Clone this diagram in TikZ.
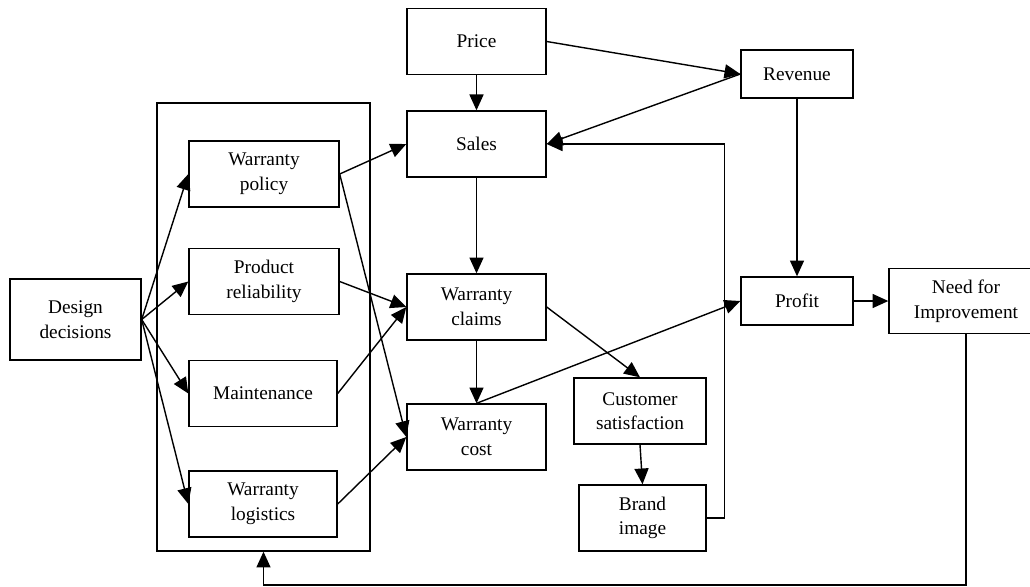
\documentclass[tikz,border=0pt]{standalone}
\usepackage{fontspec}
\setmainfont{Liberation Serif}
\usepackage{tikz}
\usetikzlibrary{positioning,calc,arrows.meta}

\tikzset{
  box/.style={draw, line width=0.8pt, align=center, inner sep=0pt, minimum height=1.32cm},
  arr/.style={-{Triangle[length=9pt,width=8pt]}, line width=0.8pt}
}

\begin{document}
\begin{tikzpicture}[x=0.02cm, y=-0.02cm, font=\fontsize{11}{14}\selectfont]
						\useasboundingbox (0,0) rectangle (1030,586);
						\node[box, minimum width=4.26cm, minimum height=8.96cm] (frame) at (263.5,327) {};
						\node[box, minimum width=2.62cm, minimum height=1.62cm] (dd) at (75.5,319.5) {Design\\decisions};
						\node[box, minimum width=3cm] (wp) at (264,174) {Warranty\\policy};
						\node[box, minimum width=3cm] (pr) at (264,281.5) {Product\\reliability};
						\node[box, minimum width=2.96cm] (mt) at (263,393.5) {Maintenance};
						\node[box, minimum width=2.96cm] (wl) at (263,504) {Warranty\\logistics};
						\node[box, minimum width=2.78cm] (price) at (476.5,41.5) {Price};
						\node[box, minimum width=2.78cm] (sales) at (476.5,144) {Sales};
						\node[box, minimum width=2.78cm] (claims) at (476.5,307) {Warranty\\claims};
						\node[box, minimum width=2.78cm] (cost) at (476.5,437) {Warranty\\cost};
						\node[box, minimum width=2.64cm] (cs) at (640,411) {Customer\\satisfaction};
						\node[box, minimum width=2.54cm] (brand) at (642.5,518) {Brand\\image};
						\node[box, minimum width=2.24cm, minimum height=0.96cm] (rev) at (797,74) {Revenue};
						\node[box, minimum width=2.24cm, minimum height=0.96cm] (profit) at (797,301) {Profit};
						\node[box, minimum width=3.08cm, minimum height=1.3cm] (need) at (966,301) {Need for\\Improvement};
						\coordinate (fb) at (263.5,585);
						\foreach \t in {wp,pr,mt,wl}
							\draw[arr] (dd.east) -- (\t.west);
						\draw[arr] (wp.east) -- (sales.west);
						\draw[arr] (wp.east) -- (cost.west);
						\draw[arr] (pr.east) -- (claims.west);
						\draw[arr] (mt.east) -- (claims.west);
						\draw[arr] (wl.east) -- (cost.west);
						\draw[arr] (price.south) -- (sales.north);
						\draw[arr] (price.east) -- (rev.west);
						\draw[arr] (rev.west) -- (sales.east);
						\draw[arr] (sales.south) -- (claims.north);
						\draw[arr] (claims.south) -- (cost.north);
						\draw[arr] (claims.east) -- (cs.north);
						\draw[arr] (cs.south) -- (brand.north);
						\draw[arr] (brand.east) -- ++(18,0) |- (sales.east);
						\draw[arr] (cost.north) -- (profit.west);
						\draw[arr] (rev.south) -- (profit.north);
						\draw[arr] (profit.east) -- (need.west);
						\draw[arr] (need.south) |- (fb) -- (frame.south);
					\end{tikzpicture}
\end{document}
